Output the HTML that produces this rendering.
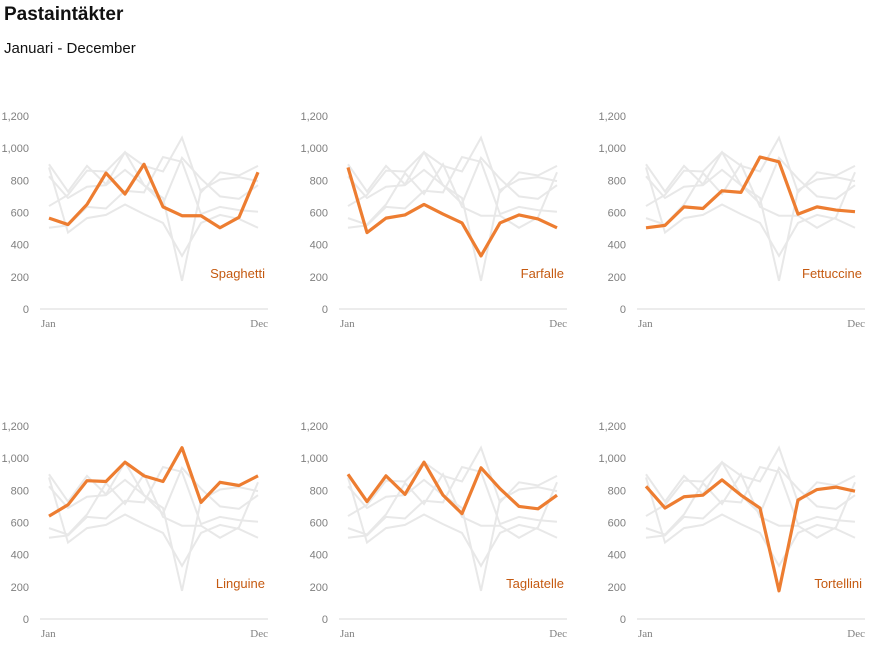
<!DOCTYPE html>
<html><head><meta charset="utf-8">
<style>
body{margin:0;width:872px;height:648px;background:#fff;font-family:"Liberation Sans",sans-serif;overflow:hidden;position:relative}
h1{position:absolute;left:4px;top:4px;margin:0;font-size:19px;font-weight:bold;color:#111}
.sub{position:absolute;left:4px;top:40px;font-size:15px;color:#111}
svg{position:absolute;left:0;top:0}
</style></head><body>
<h1>Pastaintäkter</h1>
<div class="sub">Januari - December</div>
<svg id="c" width="872" height="648"></svg>
<script>
const months=["Jan","Feb","Mar","Apr","May","Jun","Jul","Aug","Sep","Oct","Nov","Dec"];
const seriesNames=["Spaghetti","Farfalle","Fettuccine","Linguine","Tagliatelle","Tortellini"];
const spaghetti=[565,525,650,845,715,900,635,580,580,505,570,850];
const farfalle=[880,475,565,585,650,590,535,330,535,585,560,505];
const fettuccine=[505,520,635,625,735,725,945,915,590,635,615,605];
const linguine=[640,710,860,855,975,890,855,1065,725,850,830,890];
const tagliatelle=[900,730,890,775,975,770,655,940,810,700,685,770];
const tortellini=[825,690,760,770,865,770,690,175,740,805,820,795];
const yTicks=[0,200,400,600,800,1000,1200];
const yTickLabels=["0","200","400","600","800","1,000","1,200"];
const allSeries=[spaghetti,farfalle,fettuccine,linguine,tagliatelle,tortellini];
const NS="http://www.w3.org/2000/svg";
const svg=document.getElementById('c');
function mk(t,a){const e=document.createElementNS(NS,t);for(const k in a)e.setAttribute(k,a[k]);return e;}
const colX=[0,299,597], rowY=[309,619];
allSeries.forEach((ser,i)=>{
  const ox=colX[i%3], y0=rowY[Math.floor(i/3)];
  const g=mk('g',{});
  
  
  svg.appendChild(g);
  const x=k=>ox+49+k*(209/11);
  const y=v=>y0-v*193/1200;
  yTicks.forEach((t,j)=>{
    const tx=mk('text',{x:ox+29,y:y(t)+4,'text-anchor':'end','font-size':'11',fill:'#7f7f7f'});
    tx.textContent=yTickLabels[j];
    
    
    g.appendChild(tx);
  });
  const ax=mk('line',{x1:ox+40,x2:ox+268,y1:y0,y2:y0,stroke:'#d9d9d9','stroke-width':1});
  
  
  g.appendChild(ax);
  [[0,'Jan','start',ox+41],[11,'Dec','end',ox+268]].forEach(([k,l,an,px])=>{
    const tx=mk('text',{x:px,y:y0+18,'text-anchor':an,'font-size':'11','font-family':'Liberation Serif,serif',fill:'#7f7f7f'});
    tx.textContent=l;
    
    
    g.appendChild(tx);
  });
  allSeries.forEach((s,j)=>{
    if(j===i)return;
    const p=mk('polyline',{points:s.map((v,k)=>x(k)+','+y(v)).join(' '),fill:'none',stroke:'#e8e8e8','stroke-width':2});
    
    
    g.appendChild(p);
  });
  const p=mk('polyline',{points:ser.map((v,k)=>x(k)+','+y(v)).join(' '),fill:'none',stroke:'#ed7d31','stroke-width':3.2,'stroke-linejoin':'round'});
  
  
  g.appendChild(p);
  const lb=mk('text',{x:ox+265,y:y(200)+1,'text-anchor':'end','font-size':'13',fill:'#c55a11'});
  lb.textContent=seriesNames[i];
  
  
  g.appendChild(lb);
});
</script>
</body></html>
